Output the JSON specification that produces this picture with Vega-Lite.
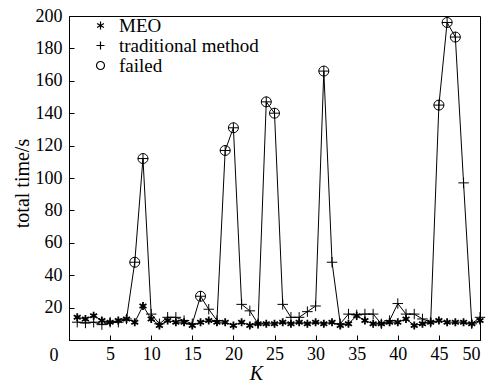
{
  "$schema": "https://vega.github.io/schema/vega-lite/v6.json",
  "width": 411,
  "height": 324,
  "autosize": {"type": "none"},
  "padding": {"left": 69, "top": 16, "right": 22, "bottom": 46},
  "background": "white",
  "config": {
    "view": {"stroke": "black", "strokeWidth": 1},
    "font": "Times New Roman, Liberation Serif, serif",
    "axis": {"grid": false, "domainColor": "black", "tickColor": "black", "labelColor": "black", "titleColor": "black", "labelFont": "Times New Roman, Liberation Serif, serif", "titleFont": "Times New Roman, Liberation Serif, serif", "titleFontWeight": "normal"},
    "legend": {"labelFont": "Times New Roman, Liberation Serif, serif"}
  },
  "datasets": {
    "pts": [
      {"K": 1, "series": "MEO", "value": 14}, {"K": 2, "series": "MEO", "value": 13}, {"K": 3, "series": "MEO", "value": 15},
      {"K": 4, "series": "MEO", "value": 12}, {"K": 5, "series": "MEO", "value": 11}, {"K": 6, "series": "MEO", "value": 12},
      {"K": 7, "series": "MEO", "value": 13}, {"K": 8, "series": "MEO", "value": 11}, {"K": 9, "series": "MEO", "value": 21},
      {"K": 10, "series": "MEO", "value": 13}, {"K": 11, "series": "MEO", "value": 9}, {"K": 12, "series": "MEO", "value": 12},
      {"K": 13, "series": "MEO", "value": 11}, {"K": 14, "series": "MEO", "value": 11}, {"K": 15, "series": "MEO", "value": 9},
      {"K": 16, "series": "MEO", "value": 11}, {"K": 17, "series": "MEO", "value": 12}, {"K": 18, "series": "MEO", "value": 11},
      {"K": 19, "series": "MEO", "value": 11}, {"K": 20, "series": "MEO", "value": 9}, {"K": 21, "series": "MEO", "value": 11},
      {"K": 22, "series": "MEO", "value": 9}, {"K": 23, "series": "MEO", "value": 10}, {"K": 24, "series": "MEO", "value": 10},
      {"K": 25, "series": "MEO", "value": 10}, {"K": 26, "series": "MEO", "value": 11}, {"K": 27, "series": "MEO", "value": 10},
      {"K": 28, "series": "MEO", "value": 11}, {"K": 29, "series": "MEO", "value": 10}, {"K": 30, "series": "MEO", "value": 11},
      {"K": 31, "series": "MEO", "value": 10}, {"K": 32, "series": "MEO", "value": 11}, {"K": 33, "series": "MEO", "value": 9},
      {"K": 34, "series": "MEO", "value": 10}, {"K": 35, "series": "MEO", "value": 15}, {"K": 36, "series": "MEO", "value": 12},
      {"K": 37, "series": "MEO", "value": 10}, {"K": 38, "series": "MEO", "value": 10}, {"K": 39, "series": "MEO", "value": 11},
      {"K": 40, "series": "MEO", "value": 11}, {"K": 41, "series": "MEO", "value": 13}, {"K": 42, "series": "MEO", "value": 9},
      {"K": 43, "series": "MEO", "value": 10}, {"K": 44, "series": "MEO", "value": 11}, {"K": 45, "series": "MEO", "value": 12},
      {"K": 46, "series": "MEO", "value": 11}, {"K": 47, "series": "MEO", "value": 11}, {"K": 48, "series": "MEO", "value": 11},
      {"K": 49, "series": "MEO", "value": 10}, {"K": 50, "series": "MEO", "value": 12},
      {"K": 1, "series": "traditional method", "value": 11}, {"K": 2, "series": "traditional method", "value": 10.5}, {"K": 3, "series": "traditional method", "value": 11},
      {"K": 4, "series": "traditional method", "value": 9.5}, {"K": 5, "series": "traditional method", "value": 11}, {"K": 6, "series": "traditional method", "value": 11},
      {"K": 7, "series": "traditional method", "value": 13}, {"K": 8, "series": "traditional method", "value": 48}, {"K": 9, "series": "traditional method", "value": 112},
      {"K": 10, "series": "traditional method", "value": 16}, {"K": 11, "series": "traditional method", "value": 10}, {"K": 12, "series": "traditional method", "value": 14},
      {"K": 13, "series": "traditional method", "value": 14}, {"K": 14, "series": "traditional method", "value": 12}, {"K": 15, "series": "traditional method", "value": 10},
      {"K": 16, "series": "traditional method", "value": 27}, {"K": 17, "series": "traditional method", "value": 19}, {"K": 18, "series": "traditional method", "value": 12},
      {"K": 19, "series": "traditional method", "value": 117}, {"K": 20, "series": "traditional method", "value": 131}, {"K": 21, "series": "traditional method", "value": 22},
      {"K": 22, "series": "traditional method", "value": 18}, {"K": 23, "series": "traditional method", "value": 10}, {"K": 24, "series": "traditional method", "value": 147},
      {"K": 25, "series": "traditional method", "value": 140}, {"K": 26, "series": "traditional method", "value": 22}, {"K": 27, "series": "traditional method", "value": 14},
      {"K": 28, "series": "traditional method", "value": 14}, {"K": 29, "series": "traditional method", "value": 17.5}, {"K": 30, "series": "traditional method", "value": 21},
      {"K": 31, "series": "traditional method", "value": 166}, {"K": 32, "series": "traditional method", "value": 48}, {"K": 33, "series": "traditional method", "value": 10},
      {"K": 34, "series": "traditional method", "value": 16}, {"K": 35, "series": "traditional method", "value": 15.5}, {"K": 36, "series": "traditional method", "value": 16},
      {"K": 37, "series": "traditional method", "value": 16}, {"K": 38, "series": "traditional method", "value": 10}, {"K": 39, "series": "traditional method", "value": 12},
      {"K": 40, "series": "traditional method", "value": 22.5}, {"K": 41, "series": "traditional method", "value": 16}, {"K": 42, "series": "traditional method", "value": 16},
      {"K": 43, "series": "traditional method", "value": 13}, {"K": 44, "series": "traditional method", "value": 11}, {"K": 45, "series": "traditional method", "value": 145},
      {"K": 46, "series": "traditional method", "value": 196}, {"K": 47, "series": "traditional method", "value": 187}, {"K": 48, "series": "traditional method", "value": 97},
      {"K": 49, "series": "traditional method", "value": 10}, {"K": 50, "series": "traditional method", "value": 14},
      {"K": 8, "series": "failed", "value": 48}, {"K": 9, "series": "failed", "value": 112}, {"K": 16, "series": "failed", "value": 27},
      {"K": 19, "series": "failed", "value": 117}, {"K": 20, "series": "failed", "value": 131}, {"K": 24, "series": "failed", "value": 147},
      {"K": 25, "series": "failed", "value": 140}, {"K": 31, "series": "failed", "value": 166}, {"K": 45, "series": "failed", "value": 145},
      {"K": 46, "series": "failed", "value": 196}, {"K": 47, "series": "failed", "value": 187}
    ]
  },
  "data": {"name": "pts"},
  "encoding": {
    "x": {
      "field": "K", "type": "quantitative",
      "scale": {"domain": [0, 50], "nice": false, "zero": false},
      "axis": {
        "values": [5, 10, 15, 20, 25, 30, 35, 40, 45, 50],
        "tickSize": -5, "labelPadding": 10, "labelFontSize": 18,
        "title": "K", "titleFontStyle": "italic", "titleFontSize": 20,
        "titleX": 187, "titleY": 33, "titleBaseline": "middle"
      }
    },
    "y": {
      "field": "value", "type": "quantitative",
      "scale": {"domain": [0, 200], "nice": false},
      "axis": {
        "values": [0, 20, 40, 60, 80, 100, 120, 140, 160, 180, 200],
        "tickSize": -5, "labelFontSize": 18,
        "labelPadding": {"condition": {"test": "datum.value === 0", "value": 16}, "value": 12},
        "labelOffset": {"condition": {"test": "datum.value === 0", "value": 15}, "value": 0},
        "title": "total time/s", "titleFontSize": 20,
        "titleX": -47, "titleY": 167, "titleBaseline": "middle", "titleAngle": -90
      }
    }
  },
  "layer": [
    {
      "transform": [{"filter": "datum.series !== 'failed'"}],
      "mark": {"type": "line", "color": "black", "strokeWidth": 1},
      "encoding": {"detail": {"field": "series"}}
    },
    {
      "transform": [{"filter": "datum.series === 'MEO'"}],
      "mark": {"type": "point", "filled": false, "color": "black", "opacity": 1, "size": 64, "strokeWidth": 1.8},
      "encoding": {
        "shape": {
          "field": "series", "type": "nominal",
          "scale": {
            "domain": ["MEO", "traditional method", "failed"],
            "range": ["M0,-1L0,1M-0.866,-0.5L0.866,0.5M-0.866,0.5L0.866,-0.5", "M-1,0L1,0M0,-1L0,1", "circle"]
          },
          "legend": {
            "title": null, "orient": "none", "legendX": 22, "legendY": 0,
            "labelFontSize": 19, "labelColor": "black",
            "symbolSize": 64, "symbolStrokeColor": "black", "symbolStrokeWidth": 1.2,
            "symbolFillColor": "transparent", "rowPadding": 0, "labelOffset": 9
          }
        }
      }
    },
    {
      "transform": [{"filter": "datum.series === 'traditional method'"}],
      "mark": {"type": "point", "filled": false, "color": "black", "opacity": 1, "size": 110, "strokeWidth": 1},
      "encoding": {"shape": {"field": "series", "type": "nominal"}}
    },
    {
      "transform": [{"filter": "datum.series === 'failed'"}],
      "mark": {"type": "point", "filled": false, "color": "black", "opacity": 1, "size": 100, "strokeWidth": 1},
      "encoding": {"shape": {"field": "series", "type": "nominal"}}
    }
  ]
}
